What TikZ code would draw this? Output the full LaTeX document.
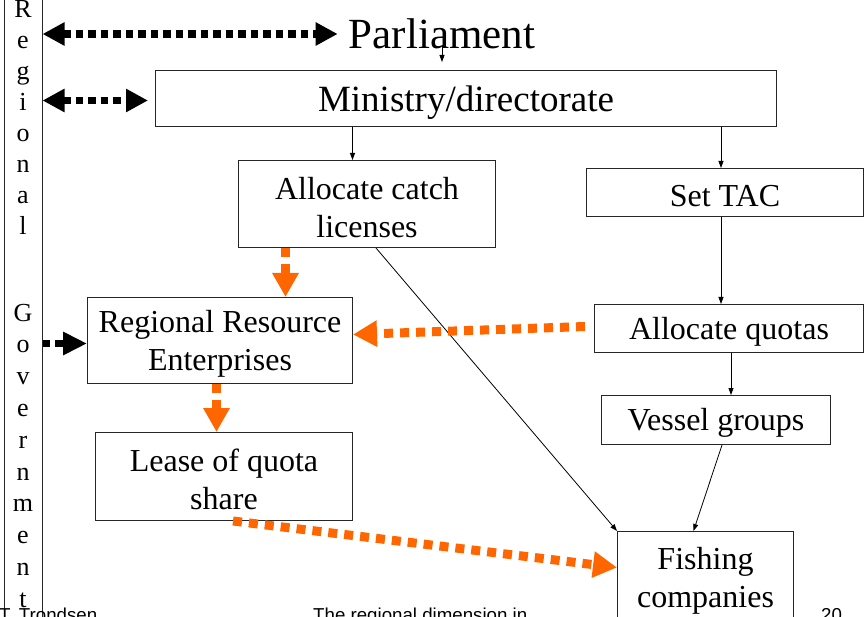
\documentclass[tikz,border=0pt]{standalone}
\usepackage{fontspec}
\setmainfont{Liberation Serif}
\newfontfamily\footfont{Liberation Sans}
\usetikzlibrary{arrows.meta,positioning}
\definecolor{quotaorange}{HTML}{FF6600}
\newcommand{\lineup}{\rule{0pt}{0.9em}}

\begin{document}
\begin{tikzpicture}[
      x=1pt, y=-1pt,
      box/.style={
        draw=black!85, line width=1pt, align=center, inner sep=0pt,
        anchor=north west, font=\fontsize{32}{38}\selectfont
      },
      letter/.style={anchor=base, inner sep=0pt, font=\fontsize{26}{31}\selectfont},
      foot/.style={anchor=base west, inner sep=0pt, font=\footfont\fontsize{18.7}{22}\selectfont},
      thinarrow/.style={-{Triangle[length=7pt,width=5pt]}, line width=0.8pt},
      govline/.style={line width=7.5pt, dash pattern=on 7.5pt off 5pt},
      govboth/.style={govline, {Triangle[length=22pt,width=22pt]}-{Triangle[length=22pt,width=22pt]}},
      govone/.style={govline, -{Triangle[length=24pt,width=22pt]}},
      quota/.style={draw=quotaorange, line width=9pt, dash pattern=on 9pt off 7pt,
        -{Triangle[length=24pt,width=25pt]}}
      ]

      \useasboundingbox (0,0) rectangle (864,617);
      \clip (0,0) rectangle (864,617);

      % regional government bar
      \node[draw=black!85, line width=1pt, minimum width=38pt, minimum height=700pt,
            inner sep=0pt] (gov) at (23,308) {};
      \foreach \l [count=\k from 0] in {R,e,g,i,o,n,a,l}
        \node[letter] (ga\k) at (23,{18+31*\k}) {\l};
      \foreach \l [count=\k from 0] in {G,o,v,e,r,n,m,e,n,t}
        \node[letter] (gb\k) at (23,{321+31.8*\k}) {\l};

      \node[inner sep=0pt, font=\fontsize{43}{50}\selectfont] (par) at (442,34) {Parliament};
      \node[box, minimum width=621pt, minimum height=56pt, font=\fontsize{37}{44}\selectfont]
            (min) at (155,70) {\lineup Ministry/directorate};
      \node[box, minimum width=257pt, minimum height=87pt] (alc) at (238,160) {\lineup Allocate catch\\licenses};
      \node[box, minimum width=277pt, minimum height=48pt] (tac) at (586,168) {\lineup Set TAC};
      \node[box, minimum width=265pt, minimum height=86pt] (rre) at (87,297) {\lineup Regional Resource\\Enterprises};
      \node[box, minimum width=269pt, minimum height=48pt] (alq) at (594,304) {\lineup Allocate quotas};
      \node[box, minimum width=229pt, minimum height=49pt] (ves) at (601,395) {\lineup Vessel groups};
      \node[box, minimum width=257pt, minimum height=88pt] (lea) at (95,432) {\lineup Lease of quota\\share};
      \node[box, minimum width=176pt, minimum height=92pt] (fis) at (617,531) {\lineup Fishing\\companies};

      % footer
      \node[foot] (auth) at (-1,621) {T. Trondsen};
      \node[foot] (ttl) at (313,621) {The regional dimension in};
      \node[foot] (pg) at (821,621) {20};

  % Connect the nodes
 \draw[thinarrow] ([yshift=3pt]par.south) -- ([yshift=8pt]min.north -| par.south);
 \draw[thinarrow] ([xshift=-14.5pt]alc.north |- min.south) -- ([xshift=-14.5pt]alc.north);
 \draw[thinarrow] ([xshift=-4pt]tac.north |- min.south) -- ([xshift=-4pt]tac.north);
 \draw[thinarrow] ([xshift=-4pt]tac.south) -- ([xshift=-4pt]tac.south |- alq.north);
 \draw[thinarrow] ([xshift=2pt]alq.south) -- ([xshift=2pt]alq.south |- ves.north);
 \draw[thinarrow] ([xshift=6pt]ves.south) -- ([xshift=-12pt]fis.north);
 \draw[thinarrow] ([xshift=9pt]alc.south) -- (fis.north west);

 \draw[quota] ([xshift=-81.5pt]alc.south) -- ([xshift=-81.5pt]alc.south |- rre.north);
 \draw[quota] ([yshift=2pt,xshift=-9pt]alq.west) -- ([yshift=6pt]rre.east);
 \draw[quota] ([xshift=-3.5pt]rre.south) -- ([xshift=-3.5pt]rre.south |- lea.north);
 \draw[quota] ([xshift=9pt]lea.south) -- ([yshift=10pt]fis.west);

 \draw[govboth] (gov.east |- par.west) -- ([xshift=-11pt]par.west);
 \draw[govboth] ([yshift=-2pt]gov.east |- min.west) -- ([yshift=-2pt,xshift=-7pt]min.west);
 \draw[govone] ([yshift=-3pt]gov.east |- rre.west) -- ([yshift=-3pt]rre.west);

\end{tikzpicture}
\end{document}
